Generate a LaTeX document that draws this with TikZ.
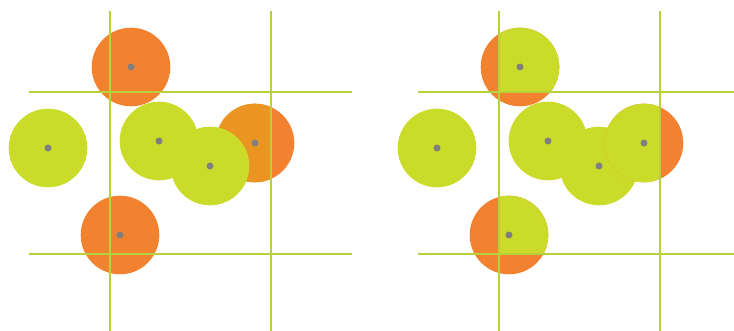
\documentclass[tikz,border=0pt]{standalone}
\usepackage{tikz}

\definecolor{limefill}{HTML}{CBDB2A}
\definecolor{limeline}{HTML}{B8D03A}
\definecolor{orangefill}{HTML}{F38230}
\definecolor{orangemix}{HTML}{EA9421}
\definecolor{dotgray}{HTML}{7F7F7F}

% circle centres, set in the current panel
\newcommand{\setcentres}{%
  \coordinate (top) at (131,67);
  \coordinate (lft) at (48,148);
  \coordinate (mid) at (159,141);
  \coordinate (rgt) at (255,143);
  \coordinate (low) at (210,166);
  \coordinate (bot) at (120,235);
}

\begin{document}
\begin{tikzpicture}[x=0.02cm,y=-0.02cm,
  lime/.style={fill=limefill},
  orng/.style={fill=orangefill},
  gridline/.style={draw=limeline,line width=1.1pt},
  thingrid/.style={draw=limeline,line width=0.7pt},
  centre/.style={fill=dotgray}]

\useasboundingbox (0,0) rectangle (734,331);

% Left panel
\begin{scope}
  \setcentres
  \fill[orng] (top) circle (39.3);
  \fill[lime] (lft) circle (39.3);
  \fill[lime] (mid) circle (39.3);
  \fill[orng] (rgt) circle (39.3);
  \begin{scope}
    \clip (110,92) rectangle (271,254);
    \fill[fill=orangemix] (rgt) circle (39.3);
  \end{scope}
  \fill[lime] (low) circle (39.3);
  \fill[orng] (bot) circle (39.3);

  % Grid
  \draw[gridline] (110,11) -- (110,331);
  \draw[gridline] (271,11) -- (271,331);
  \draw[gridline] (29,92) -- (352,92);
  \draw[gridline] (29,254) -- (352,254);

  % Centres
  \foreach \c in {top,lft,mid,rgt,low,bot}
    \fill[centre] (\c) circle (3.5);
\end{scope}

% Right panel
\begin{scope}[shift={(389,0)}]
  \setcentres
  \fill[orng] (top) circle (39.3);
  \begin{scope}
    \clip (110,0) rectangle (271,92);
    \fill[lime] (top) circle (39.3);
  \end{scope}
  \fill[lime] (lft) circle (39.3);
  \fill[lime] (mid) circle (39.3);
  \fill[lime] (low) circle (39.3);
  \fill[orng] (rgt) circle (39.3);
  \begin{scope}
    \clip (110,92) rectangle (271,254);
    \fill[lime] (rgt) circle (39.3);
  \end{scope}
  \fill[orng] (bot) circle (39.3);
  \begin{scope}
    \clip (110,92) rectangle (271,254);
    \fill[lime] (bot) circle (39.3);
  \end{scope}

  % Grid
  \draw[thingrid] (110,11) -- (110,331);
  \draw[thingrid] (271,11) -- (271,331);
  \draw[gridline] (29,92) -- (345,92);
  \draw[gridline] (29,254) -- (345,254);

  % Centres
  \foreach \c in {top,lft,mid,rgt,low,bot}
    \fill[centre] (\c) circle (3.5);
\end{scope}

\end{tikzpicture}
\end{document}
